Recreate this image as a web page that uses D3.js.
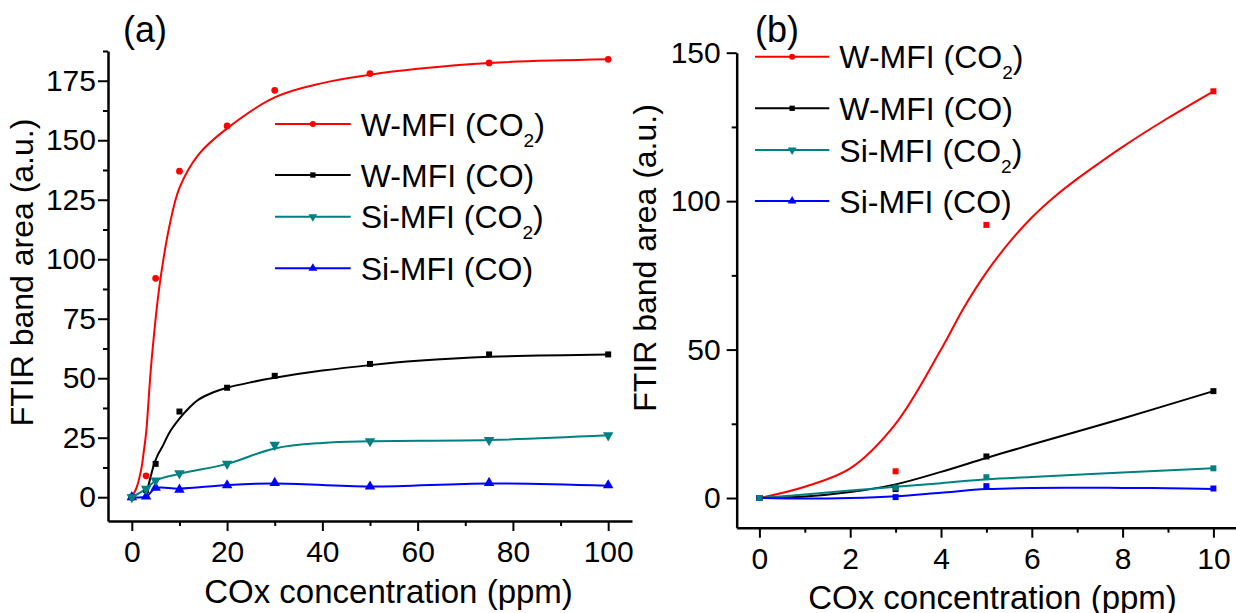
<!DOCTYPE html>
<html>
<head>
<meta charset="utf-8">
<script src="https://cdn.jsdelivr.net/npm/d3@7"></script>
<style>
  body { margin: 0; background: #fff; }
  svg { display: block; font-family: "Liberation Sans", Arial, sans-serif; }
</style>
</head>
<body>
<script>
// measured points (same samples in both panels, panel b shows x <= 10)
const conc = [0, 3, 5, 10, 20, 30, 50, 75, 100];
const wmfiCO2 = [0, 9, 92, 137, 156, 171, 178, 182.5, 184];
const wmfiCO = [0, 3, 14, 36, 46, 51, 56, 60, 60];
const simfiCO2 = [0, 3.5, 7, 10, 14, 22, 23.5, 24, 26];
const simfiCO = [0, 0.3, 4, 3.2, 5, 6, 4.5, 6, 5];

// fitted curves
const fitA_wCO2_x = [0, 1, 2, 2.5, 3, 4, 5, 5.5, 6.4, 7.8, 10, 14, 20, 30, 40, 50, 60, 75, 100];
const fitA_wCO2_y = [0, 4, 12, 19, 27, 54, 75, 84, 97, 113, 130, 144, 155, 168, 174, 177.5, 180, 182.5, 184];
const fitA_wCO_x = [2.9, 3.5, 4, 4.7, 5.5, 6.4, 8, 10, 12, 14, 17, 20, 25, 30, 40, 50, 60, 75, 100];
const fitA_wCO_y = [0, 5, 9, 14, 18, 21.2, 27.5, 33, 37.5, 41, 44, 46, 48.3, 50.2, 53.2, 55.5, 57.3, 59, 60];
const fitA_sCO2_x = [0, 3, 5, 10, 20, 30, 40, 50, 75, 100];
const fitA_sCO2_y = [0, 3.5, 7, 9.8, 14, 20.5, 22.8, 23.5, 24, 26];
const fitA_sCO_x = [0, 3, 5, 10, 20, 30, 50, 75, 100];
const fitA_sCO_y = [0, 0.3, 3.8, 3.6, 5.1, 5.8, 4.5, 5.8, 4.8];

// fitted curves
const fitB_wCO2_x = [0, 1, 2, 3, 4, 4.5, 5, 5.5, 6, 6.5, 7, 7.5, 8, 9, 10];
const fitB_wCO2_y = [0, 3.8, 10, 25, 50, 64, 76, 86, 94.5, 101.5, 107.5, 113, 118.3, 128, 137];
const fitB_wCO_x = [0, 1, 2, 3, 4, 5, 6, 8, 10];
const fitB_wCO_y = [0, 0.5, 2, 4.6, 8.8, 13.5, 18, 26.8, 36];
const fitB_sCO2_x = [0, 1, 2, 3, 4, 5, 6, 8, 10];
const fitB_sCO2_y = [0, 1.2, 2.5, 3.8, 5, 6.3, 7.1, 8.6, 10];
const fitB_sCO_x = [0, 1, 2, 3, 4, 5, 6, 8, 9, 10];
const fitB_sCO_y = [0, -0.2, 0, 0.6, 1.8, 3, 3.4, 3.4, 3.3, 3];

const seriesNames = ['W-MFI (CO2)', 'W-MFI (CO)', 'Si-MFI (CO2)', 'Si-MFI (CO)'];
const seriesColors = ['#ff0000', '#000000', '#008080', '#0000ff'];

const W = 1236, H = 613;
const svg = d3.select('body').append('svg')
  .attr('width', W)
  .attr('height', H);

const zip = (xs, ys) => xs.map((x, i) => [x, ys[i]]);

const symCircle = d3.symbol().type(d3.symbolCircle);
const symSquare = d3.symbol().type(d3.symbolSquare);
const symTri = d3.symbol().type(d3.symbolTriangle);

function marker(g, kind, size, color, cx, cy) {
  let p;
  if (kind === 'circle') p = g.append('path').attr('d', symCircle.size(size)());
  else if (kind === 'square') p = g.append('path').attr('d', symSquare.size(size)());
  else p = g.append('path').attr('d', symTri.size(size)());
  const rot = kind === 'down' ? ' rotate(180)' : '';
  p.attr('transform', `translate(${cx},${cy})${rot}`).attr('fill', color);
}

function drawPanel(cfg) {
  const x = d3.scaleLinear().domain(cfg.xDomain).range(cfg.xRange);
  const y = d3.scaleLinear().domain(cfg.yDomain).range(cfg.yRange);
  const g = svg.append('g');

  // minor ticks
  g.append('g')
    .attr('transform', `translate(0,${cfg.yRange[0]})`)
    .call(d3.axisBottom(x).tickValues(cfg.xMinor).tickSize(5).tickSizeOuter(0).tickFormat(''))
    .call(a => a.select('.domain').remove());
  g.append('g')
    .attr('transform', `translate(${cfg.xRange[0]},0)`)
    .call(d3.axisLeft(y).tickValues(cfg.yMinor).tickSize(5).tickSizeOuter(0).tickFormat(''))
    .call(a => a.select('.domain').remove());

  // major axes
  const xa = g.append('g')
    .attr('transform', `translate(0,${cfg.yRange[0]})`)
    .call(d3.axisBottom(x).tickValues(cfg.xMajor).tickSize(10).tickSizeOuter(0).tickPadding(10));
  const ya = g.append('g')
    .attr('transform', `translate(${cfg.xRange[0]},0)`)
    .call(d3.axisLeft(y).tickValues(cfg.yMajor).tickSize(10).tickSizeOuter(0).tickPadding(cfg.yPad));

  g.selectAll('.tick line').attr('stroke', '#000').attr('stroke-width', 2);
  [xa, ya].forEach(a => {
    a.select('.domain').attr('stroke', '#000').attr('stroke-width', 2.5);
    a.selectAll('text').attr('font-size', 30).attr('fill', '#000')
      .attr('font-family', '"Liberation Sans", Arial, sans-serif');
  });

  // curves
  const line = d3.line().x(d => x(d[0])).y(d => y(d[1])).curve(d3.curveCatmullRom.alpha(0.5));
  cfg.fits.forEach((f, i) => {
    g.append('path')
      .attr('d', line(zip(f[0], f[1])))
      .attr('fill', 'none')
      .attr('stroke', seriesColors[i])
      .attr('stroke-width', 2);
  });

  // points (red, black, blue, teal drawing order)
  [0, 1, 3, 2].forEach(i => {
    const ys = cfg.points[i];
    conc.forEach((c, k) => {
      if (c > cfg.xDomain[1]) return;
      marker(g, cfg.kinds[i], cfg.kinds[i] === 'square' ? 36 : (cfg.kinds[i] === 'circle' ? 36 : 48),
        seriesColors[i], x(c), y(ys[k]));
    });
  });

  // legend
  cfg.legendRows.forEach((ry, i) => {
    const lg = g.append('g');
    lg.append('line')
      .attr('x1', cfg.legX[0]).attr('x2', cfg.legX[1])
      .attr('y1', ry).attr('y2', ry)
      .attr('stroke', seriesColors[i]).attr('stroke-width', 2);
    marker(lg, cfg.legKinds[i], cfg.legKinds[i] === 'circle' ? 28 : (cfg.legKinds[i] === 'square' ? 28 : 34),
      seriesColors[i], (cfg.legX[0] + cfg.legX[1]) / 2, ry);
    const t = lg.append('text')
      .attr('x', cfg.legX[1] + 10)
      .attr('y', ry + 11.5)
      .attr('font-size', 32)
      .attr('fill', '#000');
    const name = seriesNames[i];
    if (name.endsWith('2)')) {
      t.append('tspan').text(name.slice(0, -2));
      t.append('tspan').attr('font-size', 19).attr('dy', 11).text('2');
      t.append('tspan').attr('dy', -11).text(')');
    } else {
      t.text(name);
    }
  });

  // titles
  g.append('text')
    .attr('x', cfg.label[0]).attr('y', cfg.label[1])
    .attr('font-size', 36).attr('fill', '#000')
    .text(cfg.labelText);
  g.append('text')
    .attr('x', cfg.xTitle[0]).attr('y', cfg.xTitle[1])
    .attr('text-anchor', 'middle')
    .attr('font-size', 33).attr('fill', '#000')
    .text('COx concentration (ppm)');
  g.append('text')
    .attr('transform', `translate(${cfg.yTitle[0]},${cfg.yTitle[1]}) rotate(-90)`)
    .attr('text-anchor', 'middle')
    .attr('font-size', 32).attr('fill', '#000')
    .text('FTIR band area (a.u.)');
}

drawPanel({
  xDomain: [-5, 105], xRange: [108, 632],
  yDomain: [-10, 187.5], yRange: [521, 51],
  xMajor: [0, 20, 40, 60, 80, 100], xMinor: [10, 30, 50, 70, 90],
  yMajor: [0, 25, 50, 75, 100, 125, 150, 175], yMinor: [12.5, 37.5, 62.5, 87.5, 112.5, 137.5, 162.5, 187.5],
  yPad: 2,
  fits: [[fitA_wCO2_x, fitA_wCO2_y], [fitA_wCO_x, fitA_wCO_y], [fitA_sCO2_x, fitA_sCO2_y], [fitA_sCO_x, fitA_sCO_y]],
  points: [wmfiCO2, wmfiCO, simfiCO2, simfiCO],
  kinds: ['circle', 'square', 'down', 'up'],
  legKinds: ['circle', 'square', 'down', 'up'],
  legendRows: [124, 175, 216.7, 268.3],
  legX: [275, 350.7],
  label: [123, 42], labelText: '(a)',
  xTitle: [388.5, 603],
  yTitle: [33, 272.5],
});

drawPanel({
  xDomain: [-0.5, 10.5], xRange: [736.7, 1236.1],
  yDomain: [-10, 150], yRange: [527.7, 52.7],
  xMajor: [0, 2, 4, 6, 8, 10], xMinor: [1, 3, 5, 7, 9],
  yMajor: [0, 50, 100, 150], yMinor: [25, 75, 125],
  yPad: 6,
  fits: [[fitB_wCO2_x, fitB_wCO2_y], [fitB_wCO_x, fitB_wCO_y], [fitB_sCO2_x, fitB_sCO2_y], [fitB_sCO_x, fitB_sCO_y]],
  points: [wmfiCO2, wmfiCO, simfiCO2, simfiCO],
  kinds: ['square', 'square', 'square', 'square'],
  legKinds: ['circle', 'square', 'down', 'up'],
  legendRows: [56.7, 108.3, 150, 201],
  legX: [755, 829.3],
  label: [755, 42], labelText: '(b)',
  xTitle: [992.5, 609],
  yTitle: [656, 258],
});
</script>
</body>
</html>
